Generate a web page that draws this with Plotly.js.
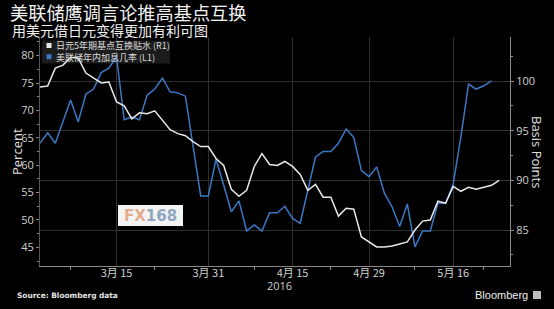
<!DOCTYPE html>
<html>
<head>
<meta charset="utf-8">
<script src="https://cdn.plot.ly/plotly-3.0.1.min.js"></script>
<style>
  html, body { margin: 0; padding: 0; background: #000; }
  #chart { width: 554px; height: 309px; }
</style>
</head>
<body>
<div id="chart"></div>
<script>
// Trading days (weekdays) from 1 Mar 2016 to 24 May 2016
const dates = [
  '2016-03-01','2016-03-02','2016-03-03','2016-03-04','2016-03-07','2016-03-08','2016-03-09','2016-03-10','2016-03-11',
  '2016-03-14','2016-03-15','2016-03-16','2016-03-17','2016-03-18','2016-03-21','2016-03-22','2016-03-23','2016-03-24',
  '2016-03-25','2016-03-28','2016-03-29','2016-03-30','2016-03-31','2016-04-01','2016-04-04','2016-04-05','2016-04-06',
  '2016-04-07','2016-04-08','2016-04-11','2016-04-12','2016-04-13','2016-04-14','2016-04-15','2016-04-18','2016-04-19',
  '2016-04-20','2016-04-21','2016-04-22','2016-04-25','2016-04-26','2016-04-27','2016-04-28','2016-04-29','2016-05-02',
  '2016-05-03','2016-05-04','2016-05-05','2016-05-06','2016-05-09','2016-05-10','2016-05-11','2016-05-12','2016-05-13',
  '2016-05-16','2016-05-17','2016-05-18','2016-05-19','2016-05-20','2016-05-23','2016-05-24'
];

// 日元5年期基点互换贴水 (R1), basis points
const swapBasis = [
  99.4, 99.5, 101.3, 101.6, 102.4, 102.3, 100.8, 100.3, 99.8, 99.9,
  97.9, 97.5, 96.2, 96.8, 96.7, 97.0, 96.1, 95.1, 94.7, 94.5,
  93.9, 93.4, 93.4, 92.2, 91.5, 89.1, 88.4, 89.0, 91.4, 92.7,
  91.6, 91.5, 91.9, 91.4, 90.6, 89.0, 89.6, 88.3, 88.3, 86.4,
  87.2, 87.1, 84.3, 83.8, 83.3, 83.3, 83.4, 83.6, 83.8, 85.0,
  85.9, 86.0, 87.9, 87.7, 89.4, 88.9, 89.3, 89.1, 89.3, 89.5,
  90.0
];

// 美联储年内加息几率 (L1), percent
const hikeProb = [
  64.0, 65.9, 64.0, 67.9, 71.9, 67.9, 73.0, 73.9, 76.9, 77.7,
  79.8, 68.3, 68.8, 68.3, 72.8, 73.9, 75.9, 73.4, 73.2, 72.6,
  63.5, 54.4, 54.4, 61.1, 56.4, 51.5, 53.5, 48.0, 49.1, 48.0,
  51.3, 51.3, 52.5, 50.3, 49.4, 55.5, 61.5, 62.5, 62.5, 64.0,
  66.6, 65.1, 59.0, 57.9, 59.7, 54.9, 52.4, 48.8, 52.9, 45.1,
  48.0, 48.0, 53.1, 53.0, 56.6, 65.2, 74.8, 73.9, 74.5, 75.4
];

const seriesNames = ['日元5年期基点互换贴水 (R1)', '美联储年内加息几率 (L1)'];
const seriesColors = ['#e8e8e8', '#3b78c4'];

const tickDates = ['2016-03-15', '2016-03-31', '2016-04-15', '2016-04-29', '2016-05-16'];
const tickLabels = ['3月 15', '3月 31', '4月 15', '4月 29', '5月 16'];
const minorTickDates = ['2016-03-07', '2016-03-22', '2016-04-08', '2016-04-22', '2016-05-09', '2016-05-20'];

const CJK = '"Noto Sans CJK SC", "Noto Sans", sans-serif';
const TXT = '#d0d0d0';

// pixel -> paper helpers (plot area: x 40..510, y 37..266)
const PL = 40, PR = 510, PT = 37, PB = 266;
const px = x => (x - PL) / (PR - PL);
const py = y => (PB - y) / (PB - PT);

const traces = [
  {
    x: dates, y: swapBasis, name: seriesNames[0], type: 'scatter', mode: 'lines',
    yaxis: 'y2', line: { color: seriesColors[0], width: 1.5 }, showlegend: false
  },
  {
    x: dates.slice(0, hikeProb.length), y: hikeProb, name: seriesNames[1], type: 'scatter', mode: 'lines',
    yaxis: 'y', line: { color: seriesColors[1], width: 1.5 }, showlegend: false
  }
];

const layout = {
  width: 554, height: 309,
  paper_bgcolor: '#000', plot_bgcolor: '#000',
  margin: { l: PL, r: 554 - PR, t: PT, b: 309 - PB },
  showlegend: false,
  title: {
    text: '美联储鹰调言论推高基点互换',
    font: { family: CJK, size: 18.2, color: '#f2f2f2' },
    xref: 'container', x: 10 / 554, xanchor: 'left',
    yref: 'container', y: (309 - 14) / 309, yanchor: 'middle'
  },
  xaxis: {
    type: 'date',
    range: ['2016-03-01', '2016-05-25 10:00'],
    rangebreaks: [{ bounds: ['sat', 'mon'] }],
    tickmode: 'array', tickvals: tickDates, ticktext: tickLabels,
    showgrid: true, gridcolor: '#303030', gridwidth: 1,
    showline: true, linecolor: '#8a8a8a', linewidth: 1,
    ticks: '', ticklabelstandoff: -3,
    minor: { tickmode: 'array', tickvals: minorTickDates, ticks: 'outside', ticklen: 3, tickcolor: '#8a8a8a', showgrid: false },
    tickfont: { family: CJK, size: 11, color: TXT },
    zeroline: false
  },
  yaxis: {
    range: [41.6, 83.4],
    tickmode: 'linear', tick0: 45, dtick: 5,
    showgrid: false, zeroline: false,
    showline: true, linecolor: '#555', linewidth: 1,
    ticks: 'outside', ticklen: 3, tickcolor: '#8a8a8a',
    minor: { tick0: 0, dtick: 2.5, ticks: 'outside', ticklen: 2, tickcolor: '#8a8a8a', showgrid: false },
    tickfont: { family: '"Open Sans", sans-serif', size: 11, color: TXT }
  },
  yaxis2: {
    overlaying: 'y', side: 'right',
    range: [81.38, 104.43],
    tickmode: 'linear', tick0: 85, dtick: 5,
    showgrid: true, gridcolor: '#303030', gridwidth: 1, zeroline: false,
    showline: true, linecolor: '#8a8a8a', linewidth: 1,
    ticks: 'outside', ticklen: 3, tickcolor: '#8a8a8a',
    minor: { tick0: 0, dtick: 2.5, ticks: 'outside', ticklen: 2, tickcolor: '#8a8a8a', showgrid: false },
    tickfont: { family: '"Open Sans", sans-serif', size: 11, color: TXT }
  },
  shapes: [
    // legend background
    { type: 'rect', xref: 'paper', yref: 'paper', layer: 'below',
      x0: px(42), x1: px(170), y0: py(63.5), y1: py(40.5),
      fillcolor: '#1c1c1c', line: { width: 0 } },
    // legend swatches
    { type: 'rect', xref: 'paper', yref: 'paper',
      x0: px(46.5), x1: px(51.5), y0: py(48), y1: py(43),
      fillcolor: seriesColors[0], line: { width: 0 } },
    { type: 'rect', xref: 'paper', yref: 'paper',
      x0: px(46.5), x1: px(51.5), y0: py(59.2), y1: py(54.2),
      fillcolor: seriesColors[1], line: { width: 0 } },
    // FX168 watermark box
    { type: 'rect', xref: 'paper', yref: 'paper',
      x0: px(118), x1: px(183), y0: py(226), y1: py(205),
      fillcolor: '#f3f3f3', line: { width: 0 } },
    // Bloomberg icon
    { type: 'rect', xref: 'paper', yref: 'paper',
      x0: px(533), x1: px(541), y0: py(299), y1: py(291),
      fillcolor: '#bdbdbd', line: { width: 0 } }
  ],
  annotations: [
    { text: '用美元借日元变得更加有利可图', xref: 'paper', yref: 'paper',
      x: px(10), y: py(30), xanchor: 'left', yanchor: 'middle', showarrow: false,
      font: { family: CJK, size: 14, color: '#f2f2f2' } },
    { text: seriesNames[0] + '<br>' + seriesNames[1], xref: 'paper', yref: 'paper',
      x: px(54), y: py(51.1), xanchor: 'left', yanchor: 'middle', align: 'left', showarrow: false,
      font: { family: CJK, size: 9, color: '#dcdcdc' } },
    { text: 'Percent', xref: 'paper', yref: 'paper', textangle: -90,
      x: px(17), y: py(152), xanchor: 'center', yanchor: 'middle', showarrow: false,
      font: { family: '"Open Sans", sans-serif', size: 13, color: '#e0e0e0' } },
    { text: 'Basis Points', xref: 'paper', yref: 'paper', textangle: 90,
      x: px(537), y: py(152), xanchor: 'center', yanchor: 'middle', showarrow: false,
      font: { family: '"Open Sans", sans-serif', size: 13, color: '#e0e0e0' } },
    { text: '2016', xref: 'paper', yref: 'paper',
      x: px(279), y: py(285), xanchor: 'center', yanchor: 'middle', showarrow: false,
      font: { family: '"Open Sans", sans-serif', size: 11, color: TXT } },
    { text: '<span style="color:#e3ad8c">FX</span><span style="color:#8ea7c0">168</span>',
      xref: 'paper', yref: 'paper',
      x: px(150.5), y: py(215.5), xanchor: 'center', yanchor: 'middle', showarrow: false,
      font: { family: '"DejaVu Sans", sans-serif', size: 15, weight: 'bold', color: '#8ea7c0' } },
    { text: '<b>Source: Bloomberg data</b>', xref: 'paper', yref: 'paper',
      x: px(15), y: py(295.5), xanchor: 'left', yanchor: 'middle', showarrow: false,
      font: { family: '"DejaVu Sans", sans-serif', size: 7.4, color: '#e6e6e6' } },
    { text: 'Bloomberg', xref: 'paper', yref: 'paper',
      x: px(530), y: py(295), xanchor: 'right', yanchor: 'middle', showarrow: false,
      font: { family: '"Liberation Sans", sans-serif', size: 11, color: '#f0f0f0' } }
  ]
};

Plotly.newPlot('chart', traces, layout, { displayModeBar: false, staticPlot: true });
</script>
</body>
</html>
